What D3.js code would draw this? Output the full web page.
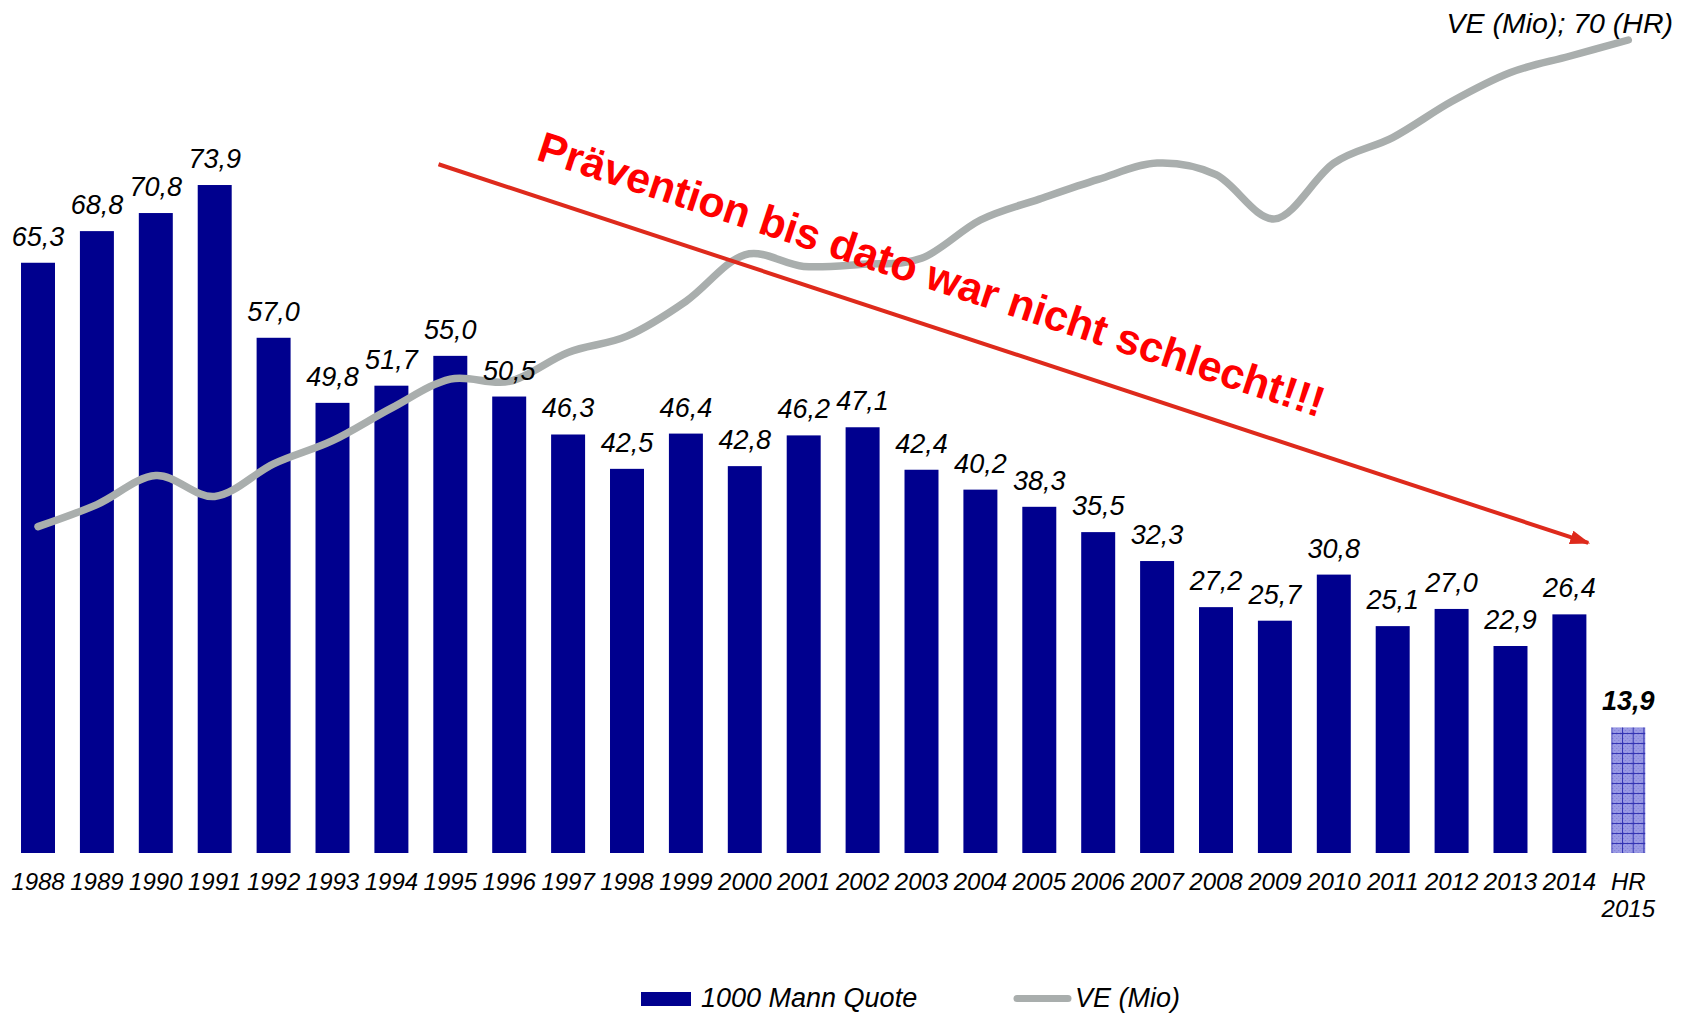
<!DOCTYPE html>
<html>
<head>
<meta charset="utf-8">
<script src="https://cdn.jsdelivr.net/npm/d3@7/dist/d3.min.js"></script>
<style>
  html, body { margin: 0; padding: 0; background: #fff; }
  svg { display: block; font-family: "Liberation Sans", Arial, sans-serif; }
</style>
</head>
<body>
<svg id="chart" width="1686" height="1013"></svg>
<script>
// ---- data ----
const categories = ["1988","1989","1990","1991","1992","1993","1994","1995","1996","1997","1998","1999","2000","2001","2002","2003","2004","2005","2006","2007","2008","2009","2010","2011","2012","2013","2014","HR 2015"];
const tickLabels = [["1988"],["1989"],["1990"],["1991"],["1992"],["1993"],["1994"],["1995"],["1996"],["1997"],["1998"],["1999"],["2000"],["2001"],["2002"],["2003"],["2004"],["2005"],["2006"],["2007"],["2008"],["2009"],["2010"],["2011"],["2012"],["2013"],["2014"],["HR","2015"]];
const quoteValues = [65.3, 68.8, 70.8, 73.9, 57.0, 49.8, 51.7, 55.0, 50.5, 46.3, 42.5, 46.4, 42.8, 46.2, 47.1, 42.4, 40.2, 38.3, 35.5, 32.3, 27.2, 25.7, 30.8, 25.1, 27.0, 22.9, 26.4, 13.9];
const veValues = [28.1, 30.0, 32.5, 30.7, 33.5, 35.5, 38.3, 40.8, 40.6, 43.1, 44.5, 47.5, 51.5, 50.5, 50.7, 51.2, 54.5, 56.3, 58.0, 59.4, 58.4, 54.6, 59.4, 61.6, 64.7, 67.2, 68.6, 70.0];
const seriesNames = ["1000 Mann Quote", "VE (Mio)"];
const veEndLabel = "VE (Mio); 70 (HR)";
const annotationText = "Prävention bis dato war nicht schlecht!!!";

// ---- layout ----
const svg = d3.select("#chart");

const x = d3.scaleBand().domain(categories).range([-3.9, 1670.2]).padding(0.423);
const y = d3.scaleLinear().domain([0, 80]).range([853, 853 - 80 * 9.039]);
const y2 = d3.scaleLinear().domain([0, 70]).range([853, 40]);
const xc = c => x(c) + x.bandwidth() / 2;
// fractional index position along the category axis
const xi = i => xc(categories[0]) + i * x.step();

const fmt = v => d3.format(".1f")(v).replace(".", ",");
const barColor = "#00008E";
const lineColor = "#A9AEAD";

// hatch pattern for the estimate bar
const defs = svg.append("defs");
const lastCat = categories[categories.length - 1];
const pat = defs.append("pattern")
  .attr("id", "hatch")
  .attr("patternUnits", "userSpaceOnUse")
  .attr("x", x(lastCat)).attr("y", y(0))
  .attr("width", 10.7).attr("height", 10);
pat.append("rect").attr("width", 10.7).attr("height", 10).attr("fill", "#9A9AE4");
for (let i = 0; i < 5; i++) for (let j = 0; j < 5; j++) {
  if ((i + j) % 2 === 0) pat.append("rect").attr("x", 1 + i * 2).attr("y", 1 + j * 2).attr("width", 1).attr("height", 1).attr("fill", "#7C7CD6");
}
pat.append("rect").attr("x", 0).attr("y", 0).attr("width", 10.7).attr("height", 1).attr("fill", "#3434B4");
pat.append("rect").attr("x", 0).attr("y", 0).attr("width", 1).attr("height", 10).attr("fill", "#3434B4");

defs.append("marker")
  .attr("id", "arrow")
  .attr("markerUnits", "userSpaceOnUse")
  .attr("viewBox", "0 0 20 14")
  .attr("refX", 18).attr("refY", 7)
  .attr("markerWidth", 20).attr("markerHeight", 14)
  .attr("orient", "auto")
  .append("path").attr("d", "M0,0 L20,7 L0,14 Z").attr("fill", "#DE2A1C");

// bars
const data = categories.map((c, i) => ({ c, q: quoteValues[i], v: veValues[i], est: i === categories.length - 1 }));
svg.append("g").selectAll("rect").data(data).join("rect")
  .attr("x", d => x(d.c))
  .attr("y", d => y(d.q))
  .attr("width", x.bandwidth())
  .attr("height", d => y(0) - y(d.q))
  .attr("fill", d => d.est ? "url(#hatch)" : barColor);

// VE line
const line = d3.line().x(d => xc(d.c)).y(d => y2(d.v)).curve(d3.curveCatmullRom.alpha(0));
svg.append("path").datum(data)
  .attr("d", line)
  .attr("fill", "none")
  .attr("stroke", lineColor)
  .attr("stroke-width", 7.5)
  .attr("stroke-linecap", "round")
  .attr("stroke-linejoin", "round");

// value labels
svg.append("g").selectAll("text").data(data).join("text")
  .attr("x", d => xc(d.c))
  .attr("y", d => y(d.q) - 17)
  .attr("text-anchor", "middle")
  .attr("font-size", 27)
  .attr("font-style", "italic")
  .attr("font-weight", d => d.est ? "bold" : "normal")
  .attr("fill", "#000")
  .text(d => fmt(d.q));

// category labels
const xt = svg.append("g").selectAll("text").data(categories).join("text")
  .attr("x", c => xc(c))
  .attr("y", 890)
  .attr("text-anchor", "middle")
  .attr("font-size", 24)
  .attr("font-style", "italic")
  .attr("fill", "#000");
xt.each(function(c, i) {
  const t = d3.select(this);
  tickLabels[i].forEach((s, k) => {
    t.append("tspan").attr("x", xc(c)).attr("dy", k === 0 ? 0 : 27).text(s);
  });
});

// end label of VE line
svg.append("text")
  .attr("x", 1673).attr("y", 33)
  .attr("text-anchor", "end")
  .attr("font-size", 28.5)
  .attr("font-style", "italic")
  .text(veEndLabel);

// annotation arrow
svg.append("line")
  .attr("x1", xi(6.80)).attr("y1", y(76.2))
  .attr("x2", xi(26.32)).attr("y2", y(34.3))
  .attr("stroke", "#DE2A1C").attr("stroke-width", 4)
  .attr("marker-end", "url(#arrow)");

const angle = Math.atan2(y(34.3) - y(76.2), xi(26.32) - xi(6.80)) * 180 / Math.PI;
svg.append("text")
  .attr("transform", `translate(${xi(8.44)},${y(76.75)}) rotate(${angle})`)
  .attr("font-size", 42.8)
  .attr("font-weight", "bold")
  .attr("fill", "#FF0000")
  .text(annotationText);

// legend
const lg = svg.append("g");
lg.append("rect").attr("x", 641).attr("y", 992).attr("width", 50).attr("height", 14).attr("fill", barColor);
lg.append("text").attr("x", 701).attr("y", 1007).attr("font-size", 27).attr("font-style", "italic").text(seriesNames[0]);
lg.append("line").attr("x1", 1017).attr("x2", 1068).attr("y1", 998.5).attr("y2", 998.5)
  .attr("stroke", lineColor).attr("stroke-width", 7).attr("stroke-linecap", "round");
lg.append("text").attr("x", 1075).attr("y", 1007).attr("font-size", 27).attr("font-style", "italic").text(seriesNames[1]);
</script>
</body>
</html>
